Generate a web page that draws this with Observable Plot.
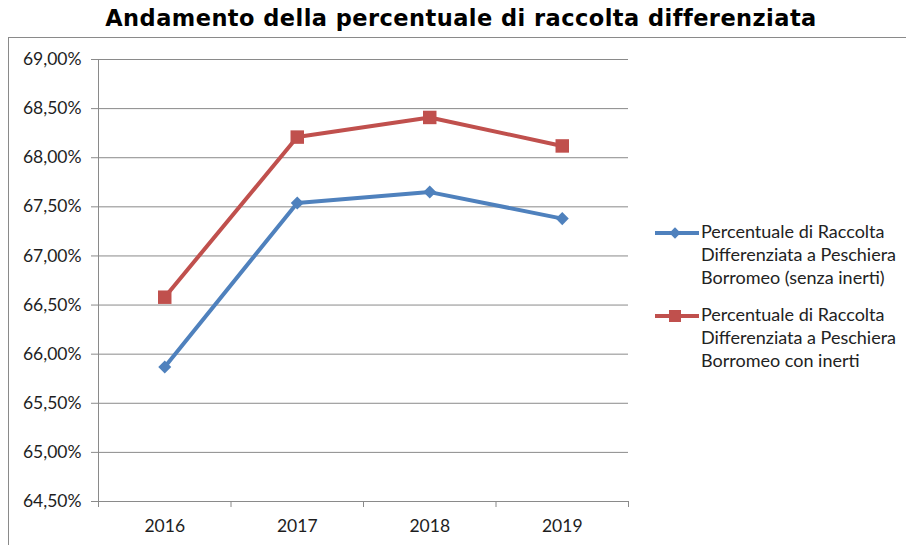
<!DOCTYPE html>
<html>
<head>
<meta charset="utf-8">
<script src="https://cdn.jsdelivr.net/npm/d3@7"></script>
<script src="https://cdn.jsdelivr.net/npm/@observablehq/plot@0.6"></script>
<style>
  html, body { margin: 0; padding: 0; background: #fff; }
  body { width: 906px; height: 545px; position: relative; overflow: hidden; }
  #title { position: absolute; left: 0; width: 922px; top: 5px; text-align: center;
    font-family: "DejaVu Sans", sans-serif; font-weight: bold; font-size: 22.5px; color: #000; letter-spacing: 0.45px; line-height: 27px; }
  #frame { position: absolute; left: 8px; top: 37px; width: 1000px; height: 600px; border: 1px solid #8a8a8a; box-sizing: border-box; }
  #chart { position: absolute; left: 0; top: 37px; }
  #legend { position: absolute; left: 655px; top: 220px; font-family: Lato, sans-serif; font-size: 18px; color: #222; }
  .entry { display: flex; align-items: flex-start; margin-bottom: 14px; }
  .entry svg { flex: none; margin-top: 2px; }
  .entry .txt { line-height: 23px; margin-left: 2px; }
</style>
</head>
<body>
<div id="frame"></div>
<div id="title">Andamento della percentuale di raccolta differenziata</div>
<div id="chart"></div>
<div id="legend"></div>
<script>
const years = [2016, 2017, 2018, 2019];
const senzaInerti = [65.87, 67.54, 67.65, 67.38];
const conInerti = [66.58, 68.21, 68.41, 68.12];
const yTicks = [64.5, 65, 65.5, 66, 66.5, 67, 67.5, 68, 68.5, 69];
const seriesNames = [
  "Percentuale di Raccolta Differenziata a Peschiera Borromeo (senza inerti)",
  "Percentuale di Raccolta Differenziata a Peschiera Borromeo con inerti"
];
const legendLines = [
  ["Percentuale di Raccolta", "Differenziata a Peschiera", "Borromeo (senza inerti)"],
  ["Percentuale di Raccolta", "Differenziata a Peschiera", "Borromeo con inerti"]
];
const colors = ["#4F81BD", "#C0504D"];

const bounds = [years[0] - 0.5, ...years.map(y => y + 0.5)];
const data = [];
years.forEach((yr, i) => {
  data.push({year: yr, value: senzaInerti[i], series: seriesNames[0]});
  data.push({year: yr, value: conInerti[i], series: seriesNames[1]});
});
const fmt = d => d.toFixed(2).replace(".", ",") + "%";
const gray = "#8a8a8a";

const chart = Plot.plot({
  width: 906,
  height: 508,
  marginTop: 22,
  marginBottom: 44,
  marginLeft: 98,
  marginRight: 278,
  style: {fontFamily: "Lato, sans-serif", fontSize: "17.5px", color: "#1e1e1e", background: "transparent"},
  x: {type: "linear", domain: [bounds[0], bounds[bounds.length - 1]]},
  y: {domain: [yTicks[0], yTicks[yTicks.length - 1]]},
  marks: [
    Plot.gridY(yTicks, {stroke: gray, strokeOpacity: 1, strokeWidth: 1}),
    Plot.ruleX([bounds[0]], {stroke: gray, strokeWidth: 1}),
    Plot.axisY({ticks: yTicks, tickFormat: fmt, tickSize: 7, tickPadding: 10, stroke: gray, label: null}),
    Plot.axisX({ticks: bounds, tickSize: 6, tickFormat: () => "", stroke: gray, label: null}),
    Plot.axisX({ticks: years, tickSize: 0, tickPadding: 18, tickFormat: d => String(d), label: null}),
    Plot.line(data.filter(d => d.series === seriesNames[0]), {x: "year", y: "value", stroke: colors[0], strokeWidth: 4}),
    Plot.line(data.filter(d => d.series === seriesNames[1]), {x: "year", y: "value", stroke: colors[1], strokeWidth: 4}),
    Plot.dot(data.filter(d => d.series === seriesNames[0]), {x: "year", y: "value", symbol: "square", rotate: 45, r: 5.2, fill: colors[0], stroke: "none"}),
    Plot.dot(data.filter(d => d.series === seriesNames[1]), {x: "year", y: "value", symbol: "square", r: 7.6, fill: colors[1], stroke: "none"})
  ]
});
document.getElementById("chart").appendChild(chart);

// legend
const legend = document.getElementById("legend");
legendLines.forEach((lines, i) => {
  const e = document.createElement("div");
  e.className = "entry";
  const sym = i === 0
    ? `<rect x="16" y="7" width="8" height="8" fill="${colors[0]}" transform="rotate(45 20 11)"/>`
    : `<rect x="14" y="5" width="12" height="12" fill="${colors[1]}"/>`;
  e.innerHTML = `<svg width="44" height="22"><line x1="0" x2="44" y1="11" y2="11" stroke="${colors[i]}" stroke-width="4"/>${sym}</svg><div class="txt">${lines.join("<br>")}</div>`;
  legend.appendChild(e);
});
</script>
</body>
</html>
